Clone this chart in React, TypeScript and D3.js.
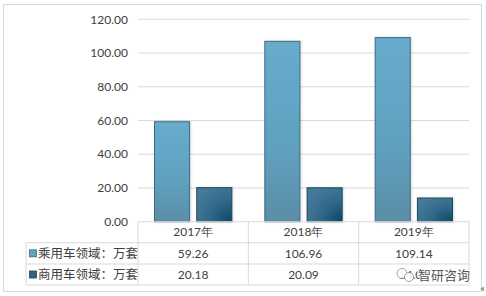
import React from "react";
import * as d3 from "d3";

const categories = ["2017年", "2018年", "2019年"];
const seriesNames = ["乘用车领域：万套", "商用车领域：万套"];
const passenger = [59.26, 106.96, 109.14];
const commercial = [20.18, 20.09, 14.04];
const yTicks = [0, 20, 40, 60, 80, 100, 120];

const W = 486;
const H = 296;
const plotL = 138;
const plotR = 469;
const plotT = 19.3;
const plotB = 221.7;
const tableL = 26;
const rowH = [221.7, 242.7, 264, 285];

const textColor = "#404040";
const numFont = "Lato, 'Liberation Sans', sans-serif";
const cjkFont = "'Noto Sans CJK SC', sans-serif";

export default function App() {
  const x = d3.scaleBand<string>().domain(categories).range([plotL, plotR]).paddingInner(0).paddingOuter(0);
  const x1 = d3
    .scaleBand<string>()
    .domain(seriesNames)
    .range([16.5, x.bandwidth() - 16.5])
    .paddingInner(0.17)
    .paddingOuter(0);
  const y = d3.scaleLinear().domain([0, 120]).range([plotB, plotT]);
  const seriesData = [passenger, commercial];
  const fills = ["url(#gP)", "url(#gC)"];
  const strokes = ["#3b6a82", "#22465a"];
  const legendFill = ["#5fa3c2", "#2f6584"];
  const fmt = d3.format(".2f");

  return (
    <svg
      width={W}
      height={H}
      style={{ position: "fixed", left: 0, top: 0, background: "#fff" }}
      viewBox={`0 0 ${W} ${H}`}
    >
      <defs>
        <linearGradient id="gP" x1="0" y1="0" x2="0" y2="1">
          <stop offset="0" stopColor="#67accb" />
          <stop offset="0.6" stopColor="#60a0bf" />
          <stop offset="1" stopColor="#5a8da6" />
        </linearGradient>
        <radialGradient id="gC" cx="1" cy="1" r="1.2">
          <stop offset="0" stopColor="#0c4862" />
          <stop offset="0.55" stopColor="#33698a" />
          <stop offset="1" stopColor="#447a9a" />
        </radialGradient>
        <filter id="sh" x="-20%" y="-20%" width="140%" height="140%">
          <feDropShadow dx="1" dy="0" stdDeviation="1" floodColor="#000" floodOpacity="0.15" />
        </filter>
      </defs>
      <rect x={3.5} y={4.5} width={478} height={287} fill="#fff" stroke="#d9d9d9" />

      {yTicks.map((t) => (
        <g key={t}>
          {t > 0 && (
            <line x1={plotL} x2={plotR} y1={y(t)} y2={y(t)} stroke="#d9d9d9" strokeWidth={1} />
          )}
          <text
            x={128}
            y={y(t)}
            dy="0.35em"
            textAnchor="end"
            fontFamily={numFont}
            fontSize={12}
            fill={textColor}
          >
            {fmt(t)}
          </text>
        </g>
      ))}

      {categories.map((c, i) =>
        seriesData.map((s, j) => {
          const bx = (x(c) as number) + (x1(seriesNames[j]) as number);
          const by = y(s[i]);
          return (
            <rect
              key={c + j}
              x={bx}
              y={by}
              width={x1.bandwidth()}
              height={plotB - by}
              fill={fills[j]}
              stroke={strokes[j]}
              strokeWidth={1}
              filter="url(#sh)"
            />
          );
        })
      )}

      {/* data table */}
      <g stroke="#d9d9d9" strokeWidth={1} fill="none">
        <line x1={plotL} x2={plotR} y1={rowH[0]} y2={rowH[0]} />
        <line x1={tableL} x2={plotR} y1={rowH[1]} y2={rowH[1]} />
        <line x1={tableL} x2={plotR} y1={rowH[2]} y2={rowH[2]} />
        <line x1={tableL} x2={plotR} y1={rowH[3]} y2={rowH[3]} />
        <line x1={tableL} x2={tableL} y1={rowH[1]} y2={rowH[3]} />
        {categories.map((c) => (
          <line key={c} x1={x(c)} x2={x(c)} y1={rowH[0]} y2={rowH[3]} />
        ))}
        <line x1={plotR} x2={plotR} y1={rowH[0]} y2={rowH[3]} />
      </g>

      {categories.map((c) => (
        <text
          key={c}
          x={(x(c) as number) + x.bandwidth() / 2}
          y={(rowH[0] + rowH[1]) / 2}
          dy="0.35em"
          textAnchor="middle"
          fontFamily={numFont}
          fontSize={12}
          fill={textColor}
        >
          {c}
        </text>
      ))}

      {seriesData.map((s, j) => (
        <g key={j}>
          <rect
            x={29.5}
            y={(rowH[j + 1] + rowH[j + 2]) / 2 - 3.5}
            width={7}
            height={7}
            fill={legendFill[j]}
            stroke={strokes[j]}
            strokeWidth={0.8}
          />
          <text
            x={38}
            y={(rowH[j + 1] + rowH[j + 2]) / 2}
            dy="0.35em"
            fontFamily={cjkFont}
            fontSize={12.5}
            fill={textColor}
          >
            {seriesNames[j]}
          </text>
          {categories.map((c, i) => (
            <text
              key={c}
              x={(x(c) as number) + x.bandwidth() / 2}
              y={(rowH[j + 1] + rowH[j + 2]) / 2}
              dy="0.35em"
              textAnchor="middle"
              fontFamily={numFont}
              fontSize={12}
              fill={textColor}
            >
              {fmt(s[i])}
            </text>
          ))}
        </g>
      ))}

      {/* watermark */}
      <g>
        <circle cx={402} cy={273.5} r={5} fill="#fff" fillOpacity={0.9} stroke="#8a8a8a" strokeWidth={0.8} />
        <circle cx={409} cy={277} r={4.5} fill="#fff" fillOpacity={0.9} stroke="#8a8a8a" strokeWidth={0.8} />
        <text x={418} y={275} dy="0.35em" fontFamily={cjkFont} fontSize={13} fill="#555" stroke="#fff" strokeWidth={2} paintOrder="stroke">
          智研咨询
        </text>
      </g>
      <path d="M480,289 L484,286.5 L484,291.5 Z" fill="#999" />
    </svg>
  );
}
